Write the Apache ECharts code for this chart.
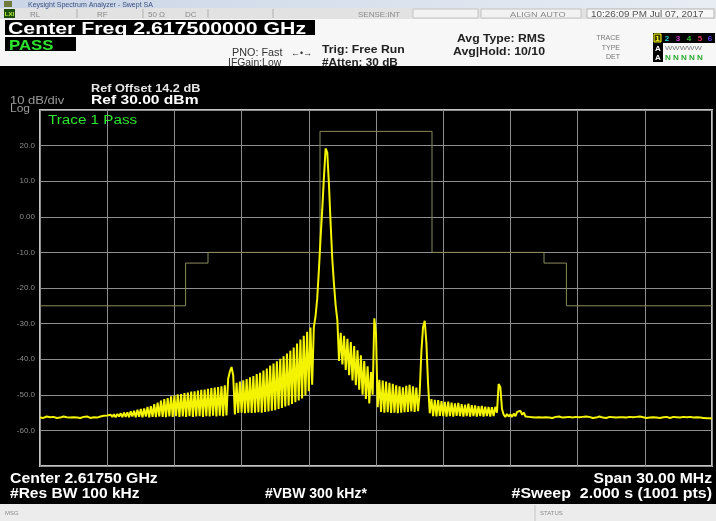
<!DOCTYPE html>
<html>
<head>
<meta charset="utf-8">
<script src="https://cdn.jsdelivr.net/npm/echarts@6/dist/echarts.min.js"></script>
<style>
  html, body { margin: 0; padding: 0; background: #000; }
  #chart { width: 716px; height: 521px; }
</style>
</head>
<body>
<div id="chart"></div>
<script>
// Sweep grid: 30 MHz span around 2.6175 GHz, offsets in MHz
var sweepStartMHz = -15;
var sweepStepMHz = 0.075;

// Trace 1 levels (dBm), sweep order, split by spectral region
var floorLeft = [
  -56.4,-56.2,-56.5,-56.3,-56.1,-56.4,-56.3,-56.6,-56.2,-56.3,
  -56.5,-56.2,-56.4,-56.3,-56.1,-56.5,-56.3,-56.2,-56.4,-56.6,
  -56.3,-56.1,-56.4,-56.2,-56.5,-56.3,-56.2,-56.4,-56.1,-56.3,
  -56.5,-56.2,-56.3,-56.0,-56.4,-56.2,-56.1,-56.4,-55.9,-56.3,
  -55.8,-56.2
];
var lowerSidebandOuter = [
  -55.6,-56.2,-55.5,-56.3,-55.4,-56.1,-55.2,-56.3,-55.0,-56.2,
  -54.9,-56.3,-54.6,-56.1,-54.5,-56.3,-54.2,-56.2,-54.0,-56.3,
  -53.8,-56.1,-53.4,-56.3,-53.2,-56.2,-52.6,-56.3,-52.2,-56.1,
  -51.6,-56.2,-51.2,-56.3,-50.9,-56.1,-50.4,-56.2,-50.2,-56.0,
  -49.9,-56.2,-49.8,-56.1,-49.5,-56.2,-49.4,-56.0,-49.1,-56.2,
  -49.0,-56.1,-48.8,-56.0,-48.6,-56.2,-48.5,-56.0,-48.3,-56.1,
  -48.1,-55.9,-48.0,-56.1,-47.8,-55.9,-47.6,-56.0,-47.3,-55.8,
  -45.5
];
var spurLowA = [-43.5,-42.2,-44.5,-55.5];
var lowerSidebandInner = [
  -46.6,-55.1,-46.3,-55.0,-45.9,-55.2,-45.6,-55.0,-45.1,-55.1,
  -44.7,-55.0,-44.2,-54.9,-43.8,-55.0,-43.2,-54.8,-42.6,-54.7,
  -41.8,-54.5,-41.2,-54.3,-40.6,-54.0,-39.9,-53.7,-39.2,-53.3,
  -38.4,-53.0,-37.6,-52.6,-36.7,-52.1,-35.6,-51.6,-34.5,-51.0,
  -33.4,-50.2,-32.3,-49.0,-31.1,-47.2,-31.0
];
var carrier = [
  -28.0,-23.0,-15.0,-6.0,2.0,11.0,19.2,18.0,9.0,-2.0,
  -12.0,-19.0,-25.0,-29.0
];
var upperSidebandInner = [
  -40.5,-32.6,-41.5,-33.4,-43.0,-34.3,-44.5,-35.2,-46.0,-36.3,
  -47.3,-37.5,-48.6,-38.9,-50.0,-40.5,-51.2,-42.0,-52.4,-43.6
];
var spurUpA = [-50.0,-28.5,-33.0,-53.5];
var upperSidebandMid = [
  -45.8,-54.8,-46.0,-55.0,-46.3,-54.9,-46.6,-55.1,-46.9,-55.0,
  -47.3,-55.2,-47.6,-55.0,-47.9,-54.9,-47.5,-54.8,-47.2,-54.7,
  -47.6,-54.8,-48.0,-54.6
];
var spurUpB = [-49.5,-38.0,-31.0,-29.2,-35.5,-47.0,-55.2];
var upperSidebandOuter = [
  -51.2,-56.0,-51.4,-56.1,-51.5,-55.9,-51.8,-56.0,-52.0,-56.1,
  -51.9,-56.0,-52.2,-56.1,-52.4,-55.9,-52.3,-56.0,-52.6,-56.1,
  -52.8,-56.0,-52.5,-56.1,-52.9,-56.0,-53.0,-56.1,-53.2,-56.0,
  -53.1,-56.1,-53.3,-56.0,-53.4,-56.1,-53.5,-56.0,-53.4,-55.0
];
var spurUpC = [-47.0,-47.8,-54.0];
var upperTail = [
  -55.6,-56.2,-55.4,-56.1,-55.5,-56.2,-55.3,-56.0,-54.8,-54.3,
  -54.5,-55.6,-55.0,-56.1,-55.6,-56.2,-55.8,-56.3,-56.0,-56.4,
  -56.1,-56.3,-56.2,-56.4,-56.2
];
var floorRight = [
  -56.3,-56.1,-56.4,-56.2,-56.5,-56.3,-56.2,-56.4,-56.1,-56.3,
  -56.4,-56.2,-56.3,-56.5,-56.2,-56.1,-56.4,-56.3,-56.2,-56.4,
  -56.3,-56.5,-56.2,-56.3,-56.1,-56.4,-56.2,-56.3,-56.5,-56.2,
  -56.4,-56.3,-56.1,-56.3,-56.4,-56.2,-56.5,-56.3,-56.2,-56.4,
  -56.3,-56.2,-56.4,-56.1,-56.3,-56.5,-56.3,-56.2,-56.4,-56.3,
  -56.2,-56.4,-56.3,-56.5,-56.2,-56.3,-56.1,-56.4,-56.3,-56.2,
  -56.5,-56.3,-56.4,-56.2,-56.3,-56.1,-56.4,-56.3,-56.5,-56.2,
  -56.3,-56.4,-56.2,-56.3,-56.5,-56.3,-56.2,-56.4,-56.3,-56.1,
  -56.4,-56.3,-56.2,-56.5,-56.3,-56.4,-56.2,-56.3,-56.4,-56.6,
  -56.3,-56.5,-56.4,-56.6,-56.5,-56.4,-56.6,-56.5,-56.6,-56.7
];

// Spectrum emission mask (limit line)
var limitFreq  = [-15, -8.5, -8.5, -7.5, -7.5, -2.5, -2.5, 2.5, 2.5, 7.5, 7.5, 8.5, 8.5, 15];
var limitLevel = [-25, -25, -13, -13, -10, -10, 24, 24, -10, -10, -13, -13, -25, -25];

// Amplitude graticule labels (dBm)
var levelLabels = { '20': '20.0', '10': '10.0', '0': '0.00', '-10': '-10.0', '-20': '-20.0',
                    '-30': '-30.0', '-40': '-40.0', '-50': '-50.0', '-60': '-60.0' };

var traceLevels = [].concat(floorLeft, lowerSidebandOuter, spurLowA, lowerSidebandInner,
  carrier, upperSidebandInner, spurUpA, upperSidebandMid, spurUpB, upperSidebandOuter,
  spurUpC, upperTail, floorRight);
var traceData = traceLevels.map(function (v, i) { return [sweepStartMHz + i * sweepStepMHz, v]; });
var limitData = limitFreq.map(function (f, i) { return [f, limitLevel[i]]; });

var SANS = '"Liberation Sans", Arial, sans-serif';
// text placed by the vertical centre of its capitals; sx stretches glyphs horizontally
function txt(str, x, cy, size, weight, fill, align, sx) {
  return { type: 'text', z: 10, silent: true,
    x: x, y: cy + 0.12 * size, scaleX: sx || 1, originX: 0, originY: 0,
    style: { text: str, x: 0, y: 0, font: weight + ' ' + size + 'px ' + SANS, fill: fill,
             align: align || 'left', verticalAlign: 'middle' } };
}
function box(x, y, w, h, fill, stroke) {
  return { type: 'rect', z: 5, silent: true, shape: { x: x, y: y, width: w, height: h },
    style: { fill: fill, stroke: stroke || null, lineWidth: stroke ? 1 : 0 } };
}
function vline(x, y1, y2, color) {
  return { type: 'line', z: 6, silent: true, shape: { x1: x, y1: y1, x2: x, y2: y2 },
    style: { stroke: color, lineWidth: 1 } };
}

var graphics = [
  // window title bar
  { type: 'rect', z: 4, silent: true, shape: { x: 0, y: 0, width: 716, height: 8 },
    style: { fill: new echarts.graphic.LinearGradient(0, 0, 1, 0, [
      { offset: 0, color: '#c9d5e6' }, { offset: 1, color: '#e8edf4' }]) } },
  box(4, 1, 8, 6, '#6f7a3c'),
  txt('Keysight Spectrum Analyzer - Swept SA', 28, 4, 7, 'normal', '#3d4f80'),
  // status row
  box(0, 8, 716, 11, '#e2e2e2'),
  box(4, 9, 11, 9, '#1d4d0a'),
  txt('LXI', 9.5, 13.5, 6, 'bold', '#b8f040', 'center'),
  txt('RL', 30, 13.5, 8, 'normal', '#8a8a8a'),
  vline(77, 9, 18, '#b0b0b0'),
  txt('RF', 97, 13.5, 8, 'normal', '#8a8a8a'),
  vline(143, 9, 18, '#b0b0b0'),
  txt('50 Ω', 148, 13.5, 8, 'normal', '#8a8a8a'),
  txt('DC', 185, 13.5, 8, 'normal', '#8a8a8a'),
  vline(208, 9, 18, '#b0b0b0'),
  vline(273, 9, 18, '#b0b0b0'),
  txt('SENSE:INT', 358, 13.5, 8, 'normal', '#8a8a8a'),
  box(413, 9, 65, 9, '#f2f2f2', '#c4c4c4'),
  box(481, 9, 100, 9, '#f2f2f2', '#c4c4c4'),
  txt('ALIGN AUTO', 510, 13.5, 8, 'normal', '#8a8a8a', 'left', 1.15),
  box(587, 9, 127, 9, '#f7f7f7', '#b8b8b8'),
  txt('10:26:09 PM Jul 07, 2017', 591, 13.5, 8.5, 'normal', '#555555', 'left', 1.16),
  // settings panel
  box(0, 19, 716, 47, '#f7f7f7'),
  box(5, 20, 310, 15, '#000000'),
  txt('Center Freq 2.617500000 GHz', 8, 27.5, 16, 'bold', '#ffffff', 'left', 1.33),
  box(5, 37, 71, 14, '#000000'),
  txt('PASS', 9, 44.5, 14, 'bold', '#2ee62e', 'left', 1.2),
  txt('PNO: Fast', 232, 52.5, 10, 'normal', '#333333', 'left', 1.08),
  txt('\u2190\u2022\u2192', 291, 52, 9, 'normal', '#333333'),
  txt('IFGain:Low', 228, 62.5, 10, 'normal', '#333333', 'left', 1.04),
  txt('Trig: Free Run', 322, 48.5, 11, 'bold', '#222222', 'left', 1.11),
  txt('#Atten: 30 dB', 322, 62, 11, 'bold', '#222222', 'left', 1.07),
  txt('Avg Type: RMS', 457, 37.5, 11, 'bold', '#222222', 'left', 1.11),
  txt('Avg|Hold: 10/10', 453, 51, 11, 'bold', '#222222', 'left', 1.12),
  txt('TRACE', 620, 37.5, 7, 'normal', '#777777', 'right'),
  txt('TYPE', 620, 47, 7, 'normal', '#777777', 'right'),
  txt('DET', 620, 56.5, 7, 'normal', '#777777', 'right'),
  box(653, 33, 62, 10, '#000000'),
  box(653, 43, 10, 19, '#000000'),
  box(654, 34, 7, 8, '#3a3a00', '#ffff00'),
  txt('1', 657.5, 38, 8, 'bold', '#ffff00', 'center'),
  txt('2', 667, 38, 8, 'bold', '#22d0e0', 'center'),
  txt('3', 678, 38, 8, 'bold', '#d040d0', 'center'),
  txt('4', 689, 38, 8, 'bold', '#30c030', 'center'),
  txt('5', 700, 38, 8, 'bold', '#e03060', 'center'),
  txt('6', 710, 38, 8, 'bold', '#6040e0', 'center'),
  txt('A', 658, 47.5, 8, 'bold', '#ffffff', 'center'),
  txt('WWWWW', 665, 47.5, 6, 'normal', '#7a7a7a', 'left', 1.3),
  txt('A', 658, 57, 8, 'bold', '#ffffff', 'center'),
  txt('N N N N N', 665, 57, 8, 'bold', '#2eaa2e'),
  // annotation over the graticule
  txt('Ref Offset 14.2 dB', 91, 88, 10, 'bold', '#e6e6e6', 'left', 1.27),
  txt('10 dB/div', 10, 100.5, 10, 'normal', '#9a9a9a', 'left', 1.3),
  txt('Ref 30.00 dBm', 91, 99, 12, 'bold', '#ffffff', 'left', 1.3),
  txt('Log', 10, 108.5, 10, 'normal', '#9a9a9a', 'left', 1.2),
  txt('Trace 1 Pass', 48, 119, 12, 'normal', '#2ee62e', 'left', 1.27),
  // footer
  txt('Center 2.61750 GHz', 10, 477, 14, 'bold', '#ffffff', 'left', 1.13),
  txt('#Res BW 100 kHz', 10, 492, 14, 'bold', '#ffffff', 'left', 1.11),
  txt('#VBW 300 kHz*', 265, 492, 14, 'bold', '#ffffff'),
  txt('Span 30.00 MHz', 712, 477, 14, 'bold', '#ffffff', 'right', 1.12),
  txt('#Sweep  2.000 s (1001 pts)', 712, 492, 14, 'bold', '#ffffff', 'right', 1.14),
  box(0, 504, 716, 17, '#ececec'),
  vline(535, 505, 521, '#c4c4c4'),
  txt('MSG', 5, 512.5, 6, 'normal', '#8a8a8a'),
  txt('STATUS', 540, 512.5, 6, 'normal', '#8a8a8a')
];

var chart = echarts.init(document.getElementById('chart'), null, { renderer: 'canvas' });
chart.setOption({
  backgroundColor: '#000000',
  animation: false,
  grid: { left: 40, right: 4, top: 110, bottom: 55, show: true,
          borderColor: '#c4c4c4', borderWidth: 2, backgroundColor: 'transparent' },
  xAxis: {
    type: 'value', min: -15, max: 15, interval: 3,
    axisLine: { show: false }, axisTick: { show: false }, axisLabel: { show: false },
    splitLine: { show: true, lineStyle: { color: '#8e8e8e', width: 1 } }
  },
  yAxis: {
    type: 'value', min: -70, max: 30, interval: 10,
    axisLine: { show: false }, axisTick: { show: false },
    axisLabel: { show: true, showMinLabel: false, showMaxLabel: false, margin: 5,
      color: '#8c8c8c', fontSize: 8, fontFamily: SANS,
      formatter: function (v) { return levelLabels[String(v)] || ''; } },
    splitLine: { show: true, lineStyle: { color: '#8e8e8e', width: 1 } }
  },
  series: [
    { name: 'Limit', type: 'line', data: limitData, showSymbol: false, silent: true,
      lineStyle: { color: '#8a8a5a', width: 1 }, z: 2 },
    { name: 'Trace 1', type: 'line', data: traceData, showSymbol: false, silent: true,
      lineStyle: { color: '#f4f400', width: 2 }, z: 3 }
  ],
  graphic: graphics
});
</script>
</body>
</html>
